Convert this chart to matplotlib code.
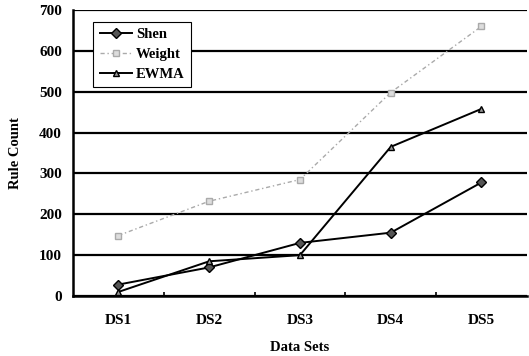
import matplotlib
matplotlib.use("Agg")
import matplotlib.pyplot as plt
from matplotlib.ticker import FixedLocator

categories = ["DS1", "DS2", "DS3", "DS4", "DS5"]
shen = [28, 70, 130, 155, 278]
weight = [148, 232, 285, 498, 660]
ewma = [10, 85, 100, 365, 458]
yticks = [0, 100, 200, 300, 400, 500, 600, 700]

plt.rcParams['font.family'] = ['Liberation Serif', 'DejaVu Serif']
plt.rcParams['font.weight'] = 'bold'

fig = plt.figure(figsize=(5.29, 3.56), dpi=100)
ax = fig.add_axes([0.138, 0.1685, 0.858, 0.8035])

x = list(range(len(categories)))
ax.plot(x, shen, color='black', lw=1.4, marker='D', ms=5, mfc='#555555', mec='black', label='Shen', zorder=4)
ax.plot(x, weight, color='#aaaaaa', lw=1.0, ls=(0, (3, 2, 1, 2)), marker='s', ms=5, mfc='#dddddd', mec='#aaaaaa', label='Weight', zorder=3)
ax.plot(x, ewma, color='black', lw=1.4, marker='^', ms=5, mfc='#999999', mec='black', label='EWMA', zorder=4)

ax.set_xlim(-0.5, len(categories) - 0.5)
ax.set_ylim(0, 700)
ax.set_yticks(yticks)
ax.set_xticks(x)
ax.set_xticklabels(categories)
ax.xaxis.set_minor_locator(FixedLocator([i + 0.5 for i in range(len(categories) - 1)]))
ax.tick_params(axis='x', which='major', length=0, pad=13, labelsize=11)
ax.tick_params(axis='x', which='minor', direction='in', length=3, width=1.2)
ax.tick_params(axis='y', length=0, pad=8, labelsize=11)
ax.yaxis.grid(True, color='black', lw=1.6)
ax.set_axisbelow(True)
for s in ['top', 'right']:
    ax.spines[s].set_visible(False)
ax.spines['left'].set_linewidth(1.8)
ax.spines['bottom'].set_linewidth(1.8)

ax.set_xlabel('Data Sets', fontsize=10.5, fontweight='bold', labelpad=10)
ax.set_ylabel('Rule Count', fontsize=10.5, fontweight='bold', labelpad=12)

leg = ax.legend(loc='upper left', bbox_to_anchor=(0.028, 0.985), frameon=True, fancybox=False,
                edgecolor='black', framealpha=1, fontsize=10.5, handlelength=2.2,
                borderpad=0.45, labelspacing=0.45, handletextpad=0.3)
leg.get_frame().set_linewidth(0.8)

fig.savefig('out.png', dpi=100)
